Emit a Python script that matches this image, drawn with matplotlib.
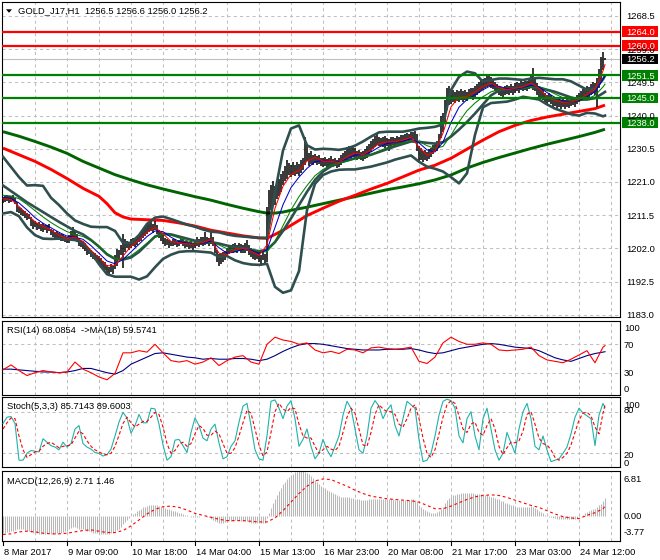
import matplotlib
matplotlib.use("Agg")
import matplotlib.pyplot as plt
from matplotlib.patches import Rectangle, Polygon

plt.rcParams['font.family'] = ['Liberation Sans', 'DejaVu Sans']
FS = 6.75

# ---------------- data ----------------
symbol_title = "GOLD_J17,H1  1256.5 1256.6 1256.0 1256.2"
x_labels = ["8 Mar 2017", "9 Mar 09:00", "10 Mar 18:00", "14 Mar 04:00", "15 Mar 13:00",
            "16 Mar 23:00", "20 Mar 08:00", "21 Mar 17:00", "23 Mar 03:00", "24 Mar 12:00"]
x_label_bars = [0, 32, 64, 96, 128, 160, 192, 224, 256, 288]

bar_low = [
 1215.0,1215.2,1215.5,1215.0,1215.3,1215.6,1214.8,1212.5,1212.0,1211.6,
 1211.2,1210.8,1210.0,1210.3,1208.5,1207.6,1208.0,1207.2,1207.5,1207.0,
 1206.8,1207.2,1206.5,1206.9,1205.8,1205.2,1204.6,1205.0,1204.3,1204.0,
 1204.2,1203.8,1203.5,1203.6,1204.4,1204.8,1204.5,1203.8,1202.8,1202.5,
 1201.8,1201.2,1200.0,1200.5,1199.6,1199.0,1198.6,1198.2,1197.4,1196.8,
 1196.2,1195.8,1195.0,1194.4,1195.2,1194.8,1196.0,1197.0,1198.6,1200.2,
 1196.5,1201.0,1202.0,1201.5,1202.2,1202.8,1202.4,1203.0,1203.8,1204.2,
 1205.0,1205.6,1206.2,1206.8,1207.0,1206.4,1207.2,1206.0,1205.0,1204.2,
 1203.2,1202.6,1203.0,1202.2,1202.6,1202.8,1203.0,1202.4,1202.8,1203.2,
 1202.6,1202.0,1202.4,1201.8,1202.2,1201.6,1202.0,1202.8,1202.4,1202.9,
 1202.6,1203.0,1203.2,1202.8,1203.4,1202.6,1200.8,1198.0,1197.0,1197.6,
 1198.2,1198.6,1199.8,1200.4,1200.6,1200.8,1201.0,1200.6,1201.2,1200.8,
 1200.6,1200.8,1201.2,1200.2,1199.6,1199.0,1198.6,1199.0,1198.2,1197.0,
 1198.6,1197.4,1198.2,1208.0,1213.0,1215.0,1214.4,1216.2,1217.0,1218.2,
 1220.0,1221.4,1222.0,1223.0,1222.4,1223.0,1222.6,1223.4,1222.8,1223.6,
 1224.4,1226.0,1227.0,1225.6,1226.2,1225.8,1226.4,1225.8,1226.2,1225.6,
 1225.2,1225.6,1225.0,1225.4,1225.8,1225.2,1225.6,1225.0,1225.4,1225.8,
 1226.4,1227.0,1227.6,1228.0,1227.4,1228.2,1227.8,1227.2,1227.6,1227.4,
 1227.0,1227.6,1228.0,1228.8,1229.6,1230.4,1231.0,1231.6,1231.2,1231.4,
 1231.0,1230.6,1231.4,1229.8,1231.0,1231.6,1231.2,1231.8,1231.4,1232.0,
 1232.0,1232.4,1232.8,1232.6,1233.0,1233.2,1232.8,1230.0,1226.8,1227.2,
 1226.8,1227.4,1227.0,1227.6,1228.2,1229.0,1229.6,1230.0,1231.0,1233.6,
 1235.4,1238.0,1241.6,1243.0,1243.4,1244.0,1243.6,1244.2,1243.8,1244.4,
 1244.0,1244.6,1244.2,1244.8,1245.0,1244.6,1245.4,1246.0,1246.4,1247.0,
 1247.4,1247.8,1248.2,1248.6,1248.0,1247.6,1247.0,1246.4,1246.0,1245.6,
 1245.4,1245.8,1246.2,1246.0,1246.4,1245.8,1246.6,1247.0,1246.6,1247.2,
 1247.0,1247.4,1247.0,1247.6,1248.0,1247.2,1247.0,1246.0,1245.4,1244.8,
 1244.4,1244.0,1243.2,1243.8,1243.4,1242.6,1242.8,1242.2,1242.6,1242.0,
 1242.4,1242.0,1242.6,1242.2,1242.8,1243.0,1242.6,1243.4,1243.8,1244.2,
 1244.6,1245.0,1245.4,1245.0,1245.8,1246.4,1246.0,1242.4,1248.0,1249.6,1253.0,1256.0]

bar_high = [
 1216.8,1217.0,1217.2,1216.9,1217.1,1217.3,1216.5,1215.2,1213.8,1213.5,
 1213.0,1212.6,1212.2,1211.8,1211.0,1210.0,1209.8,1209.3,1209.6,1209.0,
 1209.2,1208.8,1208.6,1208.9,1207.6,1207.3,1206.8,1207.0,1206.4,1206.2,
 1206.0,1205.6,1205.4,1205.8,1207.0,1208.2,1207.4,1206.0,1205.0,1204.4,
 1204.0,1203.6,1202.5,1202.2,1201.6,1201.0,1200.6,1200.2,1199.8,1199.2,
 1198.4,1198.0,1197.2,1196.8,1197.4,1197.0,1200.2,1201.8,1201.6,1203.0,
 1206.0,1204.6,1204.2,1203.8,1204.6,1205.0,1204.8,1205.4,1206.2,1206.8,
 1207.4,1208.2,1208.6,1209.4,1210.0,1209.0,1209.8,1208.6,1207.4,1206.6,
 1206.0,1205.0,1204.8,1204.4,1204.2,1204.6,1204.8,1204.2,1204.4,1204.8,
 1204.6,1204.2,1204.0,1203.8,1204.6,1203.6,1204.2,1205.2,1204.8,1205.4,
 1205.2,1206.6,1205.4,1205.0,1206.8,1205.4,1203.6,1201.6,1200.4,1200.8,
 1201.0,1201.2,1202.2,1202.6,1203.0,1203.2,1203.6,1203.0,1203.6,1203.2,
 1203.0,1203.6,1204.4,1203.0,1202.2,1201.8,1201.2,1201.6,1201.0,1200.0,
 1201.0,1200.4,1213.8,1218.6,1220.0,1221.2,1219.8,1221.0,1222.0,1223.4,
 1224.2,1225.6,1227.2,1226.4,1225.8,1226.6,1226.0,1226.8,1226.2,1227.4,
 1228.0,1234.0,1231.6,1229.4,1229.8,1228.6,1229.0,1228.4,1228.8,1228.0,
 1227.8,1228.2,1227.6,1228.0,1228.4,1227.6,1228.0,1227.4,1227.8,1228.6,
 1229.4,1230.0,1231.0,1231.4,1230.6,1231.2,1230.8,1229.8,1230.2,1229.6,
 1229.8,1230.4,1231.2,1231.8,1232.6,1233.4,1234.2,1234.6,1233.8,1233.6,
 1233.8,1234.2,1233.6,1233.4,1233.8,1234.0,1233.6,1234.2,1233.8,1234.4,
 1234.4,1234.8,1235.0,1234.8,1235.2,1235.4,1235.6,1234.6,1231.4,1230.6,
 1229.8,1230.2,1229.6,1230.4,1230.8,1231.6,1232.0,1232.8,1234.6,1239.8,
 1240.8,1244.6,1247.8,1248.4,1247.6,1247.2,1246.8,1247.4,1247.0,1247.6,
 1247.0,1247.4,1246.8,1247.6,1248.0,1247.8,1248.4,1249.0,1249.6,1250.2,
 1250.4,1250.8,1251.2,1251.6,1251.0,1250.4,1249.6,1249.0,1248.6,1248.2,
 1248.0,1248.4,1248.8,1248.6,1249.0,1248.4,1249.2,1249.6,1249.2,1249.8,
 1249.6,1250.0,1249.8,1250.6,1251.4,1253.6,1250.8,1249.4,1248.6,1247.8,
 1247.2,1246.6,1246.0,1246.4,1245.8,1245.2,1245.4,1244.8,1245.0,1244.4,
 1244.8,1244.4,1245.0,1244.6,1245.2,1245.4,1245.0,1245.8,1246.4,1247.0,
 1247.6,1248.0,1248.6,1248.2,1249.0,1249.6,1249.2,1250.8,1253.4,1256.8,1258.2,1256.6]

# indicator samples every 4 bars (bar index)
grid4 = list(range(0, 301, 4)) + [301]
ma_fast = [1216.3,1216.0,1214.0,1211.8,1209.6,1208.3,1207.2,1205.8,1204.8,1205.2,
 1204.0,1201.4,1199.4,1197.0,1197.2,1199.8,1202.6,1204.4,1206.6,1208.0,
 1206.2,1204.0,1203.6,1203.3,1203.2,1203.7,1204.6,1200.6,1200.2,1201.8,
 1202.0,1201.2,1200.0,1203.0,1213.5,1219.8,1223.2,1224.3,1227.0,1228.0,
 1227.0,1226.9,1226.6,1228.3,1229.3,1228.8,1230.2,1232.0,1232.5,1232.5,
 1233.0,1233.8,1231.0,1228.7,1229.8,1235.0,1242.5,1245.3,1245.5,1246.8,
 1248.4,1249.3,1248.0,1247.4,1247.8,1248.2,1249.3,1247.8,1245.4,1244.3,
 1243.8,1243.9,1244.6,1246.2,1247.6,1252.8,1254.6]
ma_mid = [1216.6,1216.3,1215.0,1213.0,1210.8,1209.2,1207.9,1206.6,1205.5,1205.2,
 1204.6,1202.8,1200.6,1198.4,1197.6,1198.8,1201.0,1203.2,1205.4,1207.0,
 1206.8,1205.2,1204.0,1203.5,1203.3,1203.5,1204.1,1202.2,1200.6,1201.0,
 1201.7,1201.5,1200.6,1201.6,1208.0,1214.5,1219.4,1222.4,1224.9,1226.8,
 1227.2,1226.9,1226.8,1227.6,1228.7,1228.9,1229.6,1231.0,1232.0,1232.4,
 1232.7,1233.4,1232.2,1230.2,1229.6,1232.4,1238.0,1242.4,1244.6,1245.9,
 1247.4,1248.6,1248.4,1247.7,1247.6,1248.0,1248.7,1248.2,1246.6,1245.2,
 1244.2,1243.9,1244.3,1245.4,1246.8,1250.4,1251.6]
ma_slow = [1217.2,1217.0,1216.2,1214.6,1212.8,1211.0,1209.4,1208.0,1206.8,1206.0,
 1205.4,1204.2,1202.5,1200.5,1199.2,1199.0,1199.9,1201.6,1203.5,1205.2,
 1206.0,1205.8,1205.0,1204.2,1203.7,1203.6,1203.8,1203.0,1201.9,1201.4,
 1201.5,1201.6,1201.1,1201.0,1204.0,1208.5,1213.0,1216.8,1220.0,1222.8,
 1224.6,1225.8,1226.4,1226.9,1227.6,1228.2,1228.8,1229.8,1230.8,1231.6,
 1232.2,1232.8,1232.6,1231.4,1230.6,1231.2,1234.4,1238.2,1241.4,1243.6,
 1245.4,1246.8,1247.5,1247.6,1247.6,1247.8,1248.3,1248.3,1247.4,1246.2,
 1245.1,1244.4,1244.2,1244.7,1245.8,1248.2,1249.0]
bb_mid = [1220.0,1218.4,1216.8,1215.2,1213.8,1212.4,1211.0,1209.6,1208.3,1207.0,
 1206.0,1204.4,1202.5,1200.3,1199.0,1198.8,1199.4,1201.0,1203.2,1205.4,
 1206.2,1206.0,1205.4,1204.8,1204.2,1203.8,1203.8,1203.4,1202.8,1202.4,
 1202.0,1201.6,1201.2,1201.6,1203.8,1207.0,1210.6,1214.4,1218.2,1221.6,
 1224.0,1225.5,1226.5,1227.2,1227.8,1228.2,1228.8,1229.6,1230.4,1231.2,
 1231.9,1232.6,1232.5,1232.2,1232.0,1232.4,1234.0,1236.0,1238.2,1240.6,
 1243.2,1245.8,1247.2,1247.6,1247.8,1248.0,1248.2,1248.0,1247.4,1246.8,
 1246.0,1245.2,1244.6,1244.6,1245.0,1246.4,1246.8]
bb_up = [1228.2,1225.3,1222.4,1220.0,1220.1,1219.9,1216.5,1214.4,1212.0,1210.0,
 1209.0,1208.2,1208.1,1208.1,1207.0,1203.6,1203.6,1205.8,1209.0,1210.8,
 1211.1,1210.4,1209.6,1208.8,1208.2,1207.4,1206.8,1206.6,1206.0,1205.6,
 1205.4,1205.2,1205.0,1205.0,1218.0,1230.0,1236.3,1237.2,1231.5,1230.3,
 1230.5,1230.4,1230.2,1230.6,1231.4,1232.6,1234.0,1235.2,1235.4,1235.4,
 1235.4,1235.8,1236.3,1236.5,1236.8,1237.5,1247.3,1251.1,1252.6,1252.1,
 1249.7,1250.2,1250.6,1250.6,1250.4,1250.2,1250.6,1250.8,1250.6,1250.4,
 1250.4,1249.8,1248.6,1247.4,1247.6,1250.4,1251.4]
bb_lo = [1212.0,1212.4,1211.2,1208.0,1205.8,1204.8,1204.7,1204.8,1204.6,1204.4,
 1203.6,1200.8,1197.5,1194.6,1193.9,1193.9,1193.9,1193.1,1194.0,1196.6,
 1199.0,1200.2,1201.0,1201.2,1201.2,1201.0,1200.8,1199.6,1199.8,1198.6,
 1197.8,1197.4,1197.3,1197.6,1191.0,1189.3,1190.0,1195.5,1213.0,1220.5,
 1223.0,1224.0,1224.5,1224.6,1224.6,1225.0,1225.4,1226.0,1226.6,1227.4,
 1228.0,1228.6,1226.8,1225.4,1224.8,1224.0,1222.4,1220.6,1223.5,1234.5,
 1242.4,1243.6,1243.8,1244.0,1244.6,1245.4,1245.0,1244.6,1243.2,1242.0,
 1241.2,1240.4,1240.0,1240.8,1240.6,1239.8,1240.0]

ma_red_bars = [0,8,16,24,32,40,48,52,56,60,64,72,80,88,96,104,112,120,128,132,136,140,144,
 152,160,168,176,184,192,200,208,216,224,232,240,248,256,264,272,280,288,296,301]
ma_red = [1230.7,1228.8,1226.9,1224.6,1222.0,1219.2,1216.9,1214.8,1212.2,1211.0,1210.4,
 1210.2,1210.0,1209.3,1208.4,1207.2,1206.4,1205.6,1205.0,1204.9,1206.0,1207.2,1208.6,
 1211.4,1213.5,1215.5,1217.2,1219.0,1220.6,1222.5,1224.4,1225.8,1227.8,1230.4,1233.0,
 1235.4,1237.2,1238.6,1239.6,1240.4,1241.2,1242.0,1243.0]
ma_green_bars = [0,8,16,24,32,40,48,56,64,72,80,88,96,104,112,120,128,132,136,140,144,
 152,160,168,176,184,192,200,208,216,224,232,240,248,256,264,272,280,288,296,301]
ma_green = [1235.4,1234.1,1232.6,1231.0,1229.2,1226.9,1225.0,1223.1,1221.6,1220.2,1219.0,
 1217.9,1216.8,1215.8,1214.6,1213.5,1212.5,1212.1,1212.1,1212.4,1212.9,1213.8,1214.8,
 1215.8,1216.8,1217.8,1218.8,1219.6,1220.5,1221.6,1223.0,1225.0,1226.6,1228.0,1229.3,
 1230.6,1231.8,1232.9,1234.0,1235.2,1236.1]

red_levels = [1264.0, 1260.0]
green_levels = [1251.5, 1245.0, 1238.0]
bid_price = 1256.2
price_ticks = [1268.5, 1259.0, 1249.5, 1240.0, 1230.5, 1221.0, 1211.5, 1202.0, 1192.5, 1183.0]

rsi = [34,41,33,26,30,33,31,30,31,45, 35,30,24,20,29,58,58,61,59,70,
 58,47,45,47,42,45,51,40,47,52, 54,45,42,70,80,76,74,70,72,62,
 58,60,57,63,62,58,65,66,64,63, 64,66,46,43,52,72,80,74,70,70,
 72,70,62,61,62,63,66,54,48,46, 44,49,55,61,44,66,68.09]
rsi_ma = [35,35,34,33,32,31,31,30,31,33, 36,36,33,30,28,33,42,47,52,57,
 58,56,54,52,51,49,50,49,49,50, 50,49,47,49,54,60,65,69,71,71,
 70,68,66,64,63,62,62,62,63,63, 63,64,62,59,57,58,61,64,66,68,
 70,71,70,68,66,65,64,61,56,51, 48,46,50,54,57,59,59.57]

grid2 = list(range(0, 301, 2)) + [301]
stoch_main = [63,72,73,63,10,10,20,24,23,22, 41,36,31,29,25,36,29,34,55,60,
 34,29,26,21,20,16,18,26,45,65, 79,71,49,60,76,64,64,85,84,62,
 32,10,15,39,40,31,21,50,71,60, 42,38,55,62,35,12,15,30,38,65,
 88,92,60,25,12,10,45,95,97,85, 70,88,96,70,30,40,55,30,12,20,
 40,25,15,30,45,75,95,85,55,25, 20,45,85,96,88,70,82,90,60,45,
 70,95,90,85,40,8,10,20,45,75, 95,98,96,85,45,35,70,80,45,25,
 70,85,55,25,10,20,50,35,20,55, 80,92,70,30,25,45,25,8,10,12,
 20,29,48,72,85,78,74,70,31,75, 92,85.71]
stoch_sig = [55,64,71,70,45,25,14,18,22,23, 30,34,36,32,28,30,31,32,42,52,
 48,38,30,25,22,19,18,20,30,46, 63,72,64,58,62,66,66,72,79,76,
 58,34,20,24,33,36,30,34,48,60, 56,46,46,52,48,34,20,20,28,45,
 64,82,78,55,32,16,22,50,80,92, 84,80,86,84,62,45,42,42,30,20,
 25,30,26,24,30,50,72,85,78,55, 32,30,50,76,90,84,80,80,76,62,
 58,70,85,90,70,42,20,14,25,48, 72,90,96,92,74,55,50,62,65,50,
 46,60,70,55,30,18,28,36,35,38, 52,76,80,62,42,34,32,25,14,10,
 14,20,32,50,68,78,79,74,58,48, 78,89.60]

macd_main = [
 -2.5,-2.5,-2.4,-2.4,-2.3,-2.2,-2.1,-2.0,-2.0,-2.0,
 -2.0,-2.1,-2.2,-2.3,-2.4,-2.5,-2.6,-2.6,-2.7,-2.7,
 -2.7,-2.7,-2.6,-2.6,-2.7,-2.7,-2.7,-2.6,-2.6,-2.5,
 -2.4,-2.3,-2.2,-2.0,-1.8,-1.7,-1.7,-1.8,-1.9,-2.0,
 -2.0,-2.1,-2.2,-2.3,-2.4,-2.5,-2.5,-2.6,-2.6,-2.7,
 -2.7,-2.7,-2.7,-2.7,-2.6,-2.5,-2.3,-2.1,-1.9,-1.6,
 -1.2,-0.9,-0.6,-0.3,0.0,0.3,0.5,0.7,0.9,1.1,
 1.3,1.4,1.5,1.6,1.7,1.7,1.7,1.6,1.5,1.4,
 1.3,1.2,1.1,1.0,0.9,0.8,0.7,0.6,0.5,0.4,
 0.3,0.2,0.1,0.0,-0.1,-0.1,-0.2,-0.2,-0.1,0.0,
 0.0,0.0,-0.1,-0.2,-0.4,-0.6,-0.8,-0.9,-1.0,-1.0,
 -1.0,-0.9,-0.9,-0.8,-0.7,-0.7,-0.6,-0.6,-0.6,-0.7,
 -0.7,-0.7,-0.8,-0.9,-1.0,-1.0,-1.0,-1.0,-1.0,-1.1,
 -1.1,-1.0,-0.3,0.5,1.2,1.9,2.6,3.2,3.8,4.3,
 4.8,5.2,5.6,5.9,6.2,6.4,6.6,6.7,6.8,6.81,
 6.8,6.7,6.5,6.3,6.0,5.7,5.4,5.1,4.8,4.6,
 4.4,4.2,4.0,3.8,3.6,3.4,3.3,3.1,3.0,2.9,
 2.8,2.8,2.8,2.8,2.7,2.7,2.6,2.5,2.5,2.4,
 2.4,2.4,2.4,2.5,2.5,2.6,2.6,2.6,2.6,2.6,
 2.6,2.6,2.6,2.5,2.5,2.5,2.4,2.4,2.4,2.4,
 2.4,2.4,2.4,2.4,2.5,2.5,2.4,2.1,1.7,1.4,
 1.1,0.9,0.7,0.6,0.5,0.5,0.5,0.6,0.7,1.0,
 1.4,1.9,2.4,2.7,2.9,3.1,3.2,3.3,3.3,3.4,
 3.4,3.4,3.4,3.4,3.4,3.4,3.3,3.3,3.3,3.3,
 3.3,3.2,3.1,3.0,2.9,2.8,2.7,2.6,2.5,2.3,
 2.2,2.0,1.9,1.8,1.7,1.6,1.5,1.4,1.3,1.3,
 1.3,1.3,1.3,1.4,1.5,1.4,1.2,1.0,0.8,0.6,
 0.4,0.2,0.0,-0.1,-0.2,-0.3,-0.3,-0.4,-0.4,-0.4,
 -0.4,-0.4,-0.4,-0.4,-0.4,-0.4,-0.4,-0.3,-0.2,0.0,
 0.2,0.4,0.6,0.8,0.9,1.0,1.1,1.3,1.6,1.8,2.3,2.71]
macd_signal = [-2.8,-2.7,-2.4,-2.3,-2.4,-2.6,-2.7,-2.7,-2.6,-2.4,
 -2.2,-2.1,-2.3,-2.5,-2.5,-2.2,-1.5,-0.6,0.3,1.0,
 1.4,1.5,1.3,0.9,0.4,0.1,-0.2,-0.5,-0.7,-0.7,
 -0.7,-0.8,-0.9,-0.9,-0.3,0.8,2.1,3.4,4.5,5.3,
 5.6,5.5,5.0,4.5,3.9,3.4,3.0,2.8,2.6,2.5,
 2.4,2.3,2.1,1.6,1.1,1.1,1.5,2.0,2.5,2.9,
 3.1,3.2,3.1,2.8,2.4,2.0,1.6,1.3,0.8,0.3,
 -0.1,-0.3,-0.4,0.1,0.5,1.1,1.46]

# ---------------- layout ----------------
W, H = 660, 560
fig = plt.figure(figsize=(W / 100, H / 100), dpi=100)
fig.patch.set_facecolor('white')
GRID = '#c0c0c0'
SLATE = '#2f4f4f'
n_bars = len(bar_low)
bars = list(range(n_bars))
vgrid = list(range(16, 309, 16))


def panel(top, bottom, left=2, right=620):
    ax = fig.add_axes([left / W, 1 - bottom / H, (right - left) / W, (bottom - top) / H])
    ax.set_xlim(-0.5, 308.5)
    ax.set_xticks([])
    ax.set_yticks([])
    for s in ax.spines.values():
        s.set_linewidth(0.8)
        s.set_color('black')
    for g in vgrid:
        ax.axvline(g, color=GRID, lw=0.75, ls=(0, (3, 3)), zorder=0)
    return ax


def plot(ax, xs, ys, **kw):
    n = min(len(xs), len(ys))
    ax.plot(xs[:n], ys[:n], **kw)


# main price panel
main = panel(2, 317)
main.set_ylim(1182.37, 1272.51)
for v in price_ticks:
    main.axhline(v, color=GRID, lw=0.75, ls=(0, (3, 3)), zorder=0)
main.axhline(bid_price, color='#c0c0c0', lw=0.8, zorder=1)
plot(main, ma_green_bars, ma_green, color='#006400', lw=2.1, zorder=2, solid_capstyle='butt')
plot(main, ma_red_bars, ma_red, color='#ff0000', lw=2.1, zorder=2, solid_capstyle='butt')
n = min(len(bar_low), len(bar_high))
main.vlines(bars[:n], bar_low[:n], bar_high[:n], color='black', lw=1.1, zorder=3)
for arr in (bb_up, bb_mid, bb_lo):
    plot(main, grid4, arr, color=SLATE, lw=1.9, zorder=4)
plot(main, grid4, ma_slow, color='#008000', lw=0.75, zorder=5)
plot(main, grid4, ma_mid, color='#0000c8', lw=0.75, zorder=5)
plot(main, grid4, ma_fast, color='#ff0000', lw=0.75, zorder=5)
for v in red_levels:
    main.axhline(v, color='#ff0000', lw=1.6, zorder=6)
for v in green_levels:
    main.axhline(v, color='#008000', lw=1.6, zorder=6)

# RSI panel
rsi_ax = panel(321, 395)
rsi_ax.set_ylim(-1.4, 102.8)
for v in (70, 30):
    rsi_ax.axhline(v, color=GRID, lw=0.75, ls=(0, (3, 3)), zorder=0)
plot(rsi_ax, grid4, rsi_ma, color='#000080', lw=0.8, zorder=3)
plot(rsi_ax, grid4, rsi, color='#ff0000', lw=0.8, zorder=4)

# Stochastic panel
st_ax = panel(397, 467)
st_ax.set_ylim(0.2, 101.2)
for v in (80, 20):
    st_ax.axhline(v, color=GRID, lw=0.75, ls=(0, (3, 3)), zorder=0)
plot(st_ax, grid2, stoch_main, color='#20b2aa', lw=0.8, zorder=3)
plot(st_ax, grid2, stoch_sig, color='#ff0000', lw=0.8, ls=(0, (3, 2)), zorder=4)

# MACD panel
md_ax = panel(471, 541)
md_ax.set_ylim(-3.78, 6.8)
n = len(macd_main)
md_ax.vlines(bars[:n], 0, macd_main[:n], color='#b8b8b8', lw=0.75, zorder=2)
plot(md_ax, grid4, macd_signal, color='#ff0000', lw=0.8, ls=(0, (2.5, 2.5)), zorder=3)

# ---------------- texts (overlay in pixel space) ----------------
ov = fig.add_axes([0, 0, 1, 1], zorder=20)
ov.set_xlim(0, W)
ov.set_ylim(0, H)
ov.axis('off')
ov.patch.set_alpha(0)

CAP = 3.35  # half cap height in px


def ydisp(ax, v):
    return ax.transData.transform((0, v))[1]


def xdisp(ax, v):
    return ax.transData.transform((v, 0))[0]


def label(x, yc, s, color='black'):
    ov.text(x, yc - CAP, s, fontsize=FS, color=color, ha='left', va='baseline')


# price axis labels
for v in price_ticks:
    label(626.5, ydisp(main, v), f'{v:.1f}')
for v, c in [(red_levels[0], '#ff0000'), (red_levels[1], '#ff0000'), (bid_price, '#000000'),
             (green_levels[0], '#008000'), (green_levels[1], '#008000'), (green_levels[2], '#008000')]:
    yc = ydisp(main, v)
    ov.add_patch(Rectangle((621.5, yc - 5.3), 36.5, 10.6, fc=c, ec='none', zorder=2))
    ov.text(626.0, yc - CAP, f'{v:.1f}', fontsize=FS, color='white', ha='left', va='baseline', zorder=3)

# sub-window level labels
label(624, H - 328, '100')
label(624, ydisp(rsi_ax, 70), '70')
label(624, ydisp(rsi_ax, 30), '30')
label(624, H - 389, '0')
label(624, H - 404.5, '100')
label(624, H - 410, '80')
label(624, H - 454.5, '20')
label(624, H - 462.3, '0')
label(624, H - 478.7, '6.81')
label(624, ydisp(md_ax, 0), '0.00')
label(623.3, H - 532, '-3.77')

# window captions
ov.add_patch(Polygon([(6, H - 9.3), (12, H - 9.3), (9, H - 12.8)], closed=True, fc='black', ec='none'))
ov.text(18.3, H - 13.2, symbol_title, fontsize=FS, color='black', ha='left', va='baseline')
ov.text(7.3, H - 333.2, 'RSI(14) 68.0854  ->MA(18) 59.5741', fontsize=FS, color='black', ha='left', va='baseline')
ov.text(7.3, H - 408.8, 'Stoch(5,3,3) 85.7143 89.6003', fontsize=FS, color='black', ha='left', va='baseline')
ov.text(7.3, H - 483.8, 'MACD(12,26,9) 2.71 1.46', fontsize=FS, color='black', ha='left', va='baseline')

# time axis
for b, s in zip(x_label_bars, x_labels):
    xd = xdisp(md_ax, b)
    ov.plot([xd, xd], [H - 541, H - 545], color='black', lw=0.8)
    ov.text(xd + 0.8, H - 555.0, s, fontsize=FS, color='black', ha='left', va='baseline')

fig.savefig('out.png', dpi=100, facecolor='white')
